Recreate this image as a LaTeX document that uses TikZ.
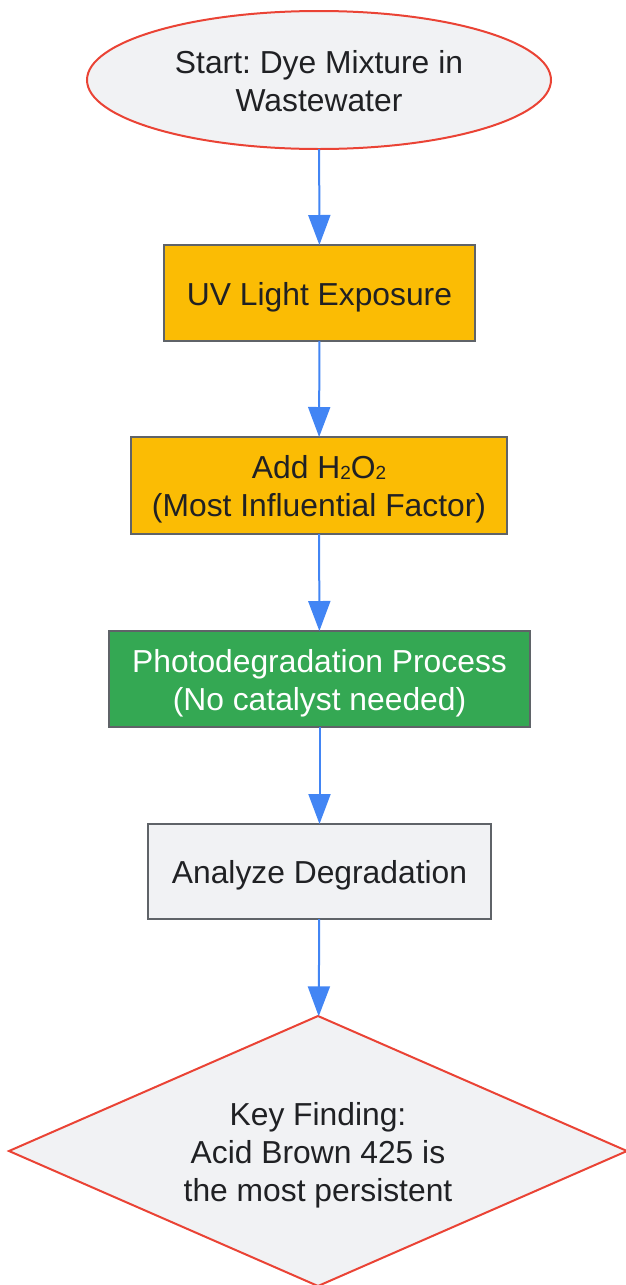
\documentclass[tikz,border=0pt]{standalone}
\usepackage{fontspec}
\setmainfont{Liberation Sans}
\usetikzlibrary{shapes.geometric,arrows.meta}
\definecolor{cred}{HTML}{EA4335}
\definecolor{cfill}{HTML}{F1F2F4}
\definecolor{cyel}{HTML}{FBBC04}
\definecolor{cgreen}{HTML}{34A853}
\definecolor{cgray}{HTML}{5F6368}
\definecolor{cblue}{HTML}{4285F4}
\definecolor{ctext}{HTML}{202124}
\newcommand{\subtwo}{\raisebox{-1pt}{\fontsize{19}{19}\selectfont 2}}
\newcommand{\ms}{\rule[-7pt]{0pt}{38pt}}
\frenchspacing
\tikzset{
  base/.style={font=\fontsize{31.8}{38}\selectfont, text=ctext, align=center, inner sep=0pt, outer sep=0pt},
  startnode/.style={base, ellipse, draw=cred, fill=cfill, line width=2pt, minimum width=464, minimum height=138},
  boxnode/.style={base, rectangle, draw=cgray, line width=2pt},
  decnode/.style={base, diamond, shape aspect=2.29, draw=cred, fill=cfill, line width=2pt, minimum width=618, minimum height=270},
  flow/.style={draw=cblue, line width=2pt, -{Triangle[length=30pt,width=22pt]}}
}
\begin{document}
\begin{tikzpicture}[x=1pt,y=1pt]
\useasboundingbox (0,0) rectangle (626,-1285);
\node[startnode] (s) at (319,-80) {\ms Start: Dye Mixture in\\\ms Wastewater};
\node[boxnode, fill=cyel, minimum width=311, minimum height=96] (uv) at (319.5,-293) {\ms UV Light Exposure};
\node[boxnode, fill=cyel, minimum width=376, minimum height=97] (h2o2) at (319,-485.5) {\ms Add H\subtwo O\subtwo\\\ms(Most Influential Factor)};
\node[boxnode, fill=cgreen, text=white, minimum width=421, minimum height=96] (photo) at (319.5,-679) {\ms Photodegradation Process\\\ms(No catalyst needed)};
\node[boxnode, fill=cfill, minimum width=343, minimum height=95] (an) at (319.5,-871.5) {\ms Analyze Degradation};
\node[decnode] (key) at (318,-1151) {\ms Key Finding:\\\ms Acid Brown 425 is\\\ms the most persistent};
\draw[flow] (s) -- (uv);
\draw[flow] (uv) -- (h2o2);
\draw[flow] (h2o2) -- (photo);
\draw[flow] (photo) -- (an);
\draw[flow] (an) -- (key);
\end{tikzpicture}
\end{document}
